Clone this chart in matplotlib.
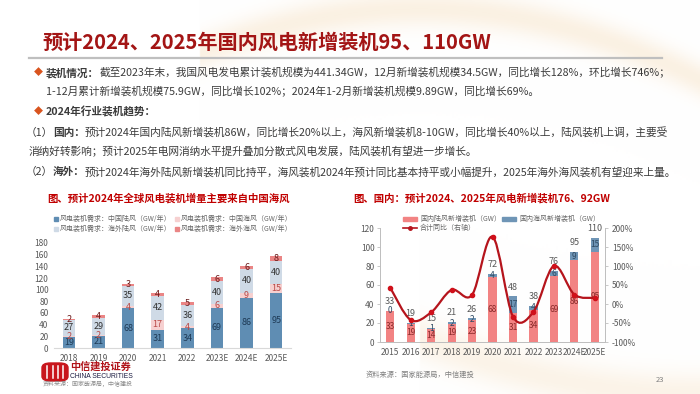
import numpy as np
import matplotlib
matplotlib.use('Agg')
import matplotlib.pyplot as plt
from matplotlib.patches import Rectangle, FancyBboxPatch
from matplotlib.path import Path
from matplotlib.patches import PathPatch
from matplotlib.lines import Line2D

plt.rcParams['font.family'] = ['Noto Sans CJK SC', 'DejaVu Sans']

# ---------------- data ----------------
years_l = ['2018', '2019', '2020', '2021', '2022', '2023E', '2024E', '2025E']
cn_onshore = [19, 21, 68, 31, 34, 69, 86, 95]
cn_offshore = [2, 2, 4, 17, 4, 6, 9, 15]
os_onshore = [27, 29, 35, 42, 36, 40, 40, 40]
os_offshore = [2, 4, 3, 4, 5, 6, 6, 8]

years_r = ['2015', '2016', '2017', '2018', '2019', '2020', '2021', '2022', '2023', '2024E', '2025E']
dom_onshore = [33, 19, 14, 19, 23, 68, 31, 34, 69, 86, 95]
dom_offshore = [0, 1, 1, 2, 2, 4, 17, 4, 6, 9, 15]
dom_total = [33, 19, 15, 21, 26, 72, 48, 38, 76, 95, 110]
total_yoy = [0.43, -0.42, -0.22, 0.37, 0.24, 1.77, -0.33, -0.21, 1.00, 0.25, 0.16]

W, H = 700, 394
fig = plt.figure(figsize=(7, 3.94), dpi=100)
fig.patch.set_facecolor('white')


def fx(x):
    return x / W


def fy(y):
    return 1 - y / H


# ---------------- background decoration ----------------
bg = fig.add_axes([0, 0, 1, 1], zorder=-10)
bg.set_axis_off()
gx, gy = np.meshgrid(np.linspace(0, W, 350), np.linspace(0, H, 197))
band1 = np.exp(-((gy - (8 + 0.0009 * (gx - 420) ** 2)) / 18) ** 2) * (gx > 200)
band2 = np.exp(-((gy - (395 - 0.0012 * (gx - 700) ** 2 * 0.6)) / 22) ** 2) * (gx > 420)
inten = np.clip(0.55 * band1 + 0.45 * band2, 0, 1)
img = np.ones((197, 350, 3))
cream = np.array([0.97, 0.90, 0.80])
img = img * (1 - inten[..., None]) + cream * inten[..., None]
bg.imshow(img, extent=[0, 1, 0, 1], aspect='auto', transform=bg.transAxes)
bg.set_xlim(0, 1)
bg.set_ylim(0, 1)

# ---------------- title ----------------
fig.text(fx(42), fy(42), '预计2024、2025年国内风电新增装机95、110GW', fontsize=14.5,
         fontweight='bold', color='#a31515', va='center', ha='left')
fig.add_artist(Line2D([fx(29), fx(662)], [fy(58), fy(58)], color='#bfbfbf', lw=1.6))

# ---------------- body text ----------------
renderer = fig.canvas.get_renderer()
body_color = '#3b3b3b'
fs_body = 7.7


def runs(x, y, parts, fs=fs_body):
    cx = x
    for txt, bold, col in parts:
        t = fig.text(fx(cx), fy(y), txt, fontsize=fs, fontweight='bold' if bold else 'normal',
                     color=col, va='center', ha='left')
        bb = t.get_window_extent(renderer=renderer)
        cx += bb.width


diamond = '#d9541e'
fig.text(fx(34), fy(73), '◆', fontsize=6.5, color=diamond, va='center', ha='left')
runs(46, 73, [('装机情况：', True, body_color),
              ('截至2023年末，我国风电发电累计装机规模为441.34GW，12月新增装机规模34.5GW，同比增长128%，环比增长746%；', False, body_color)])
runs(46, 92, [('1-12月累计新增装机规模75.9GW，同比增长102%；2024年1-2月新增装机规模9.89GW，同比增长69%。', False, body_color)])
fig.text(fx(34), fy(112), '◆', fontsize=6.5, color=diamond, va='center', ha='left')
runs(46, 112, [('2024年行业装机趋势：', True, body_color)])
runs(26, 133, [('（1）', False, body_color), ('国内：', True, body_color),
               ('预计2024年国内陆风新增装机86W，同比增长20%以上，海风新增装机8-10GW，同比增长40%以上，陆风装机上调，主要受', False, body_color)])
runs(29, 152, [('消纳好转影响；预计2025年电网消纳水平提升叠加分散式风电发展，陆风装机有望进一步增长。', False, body_color)])
runs(26, 172, [('（2）', False, body_color), ('海外：', True, body_color),
               ('预计2024年海外陆风新增装机同比持平，海风装机2024年预计同比基本持平或小幅提升，2025年海外海风装机有望迎来上量。', False, body_color)])

# ---------------- left chart ----------------
red_sub = '#c00000'
fig.text(fx(47), fy(198), '图、预计2024年全球风电装机增量主要来自中国海风', fontsize=7.5,
         fontweight='bold', color=red_sub, va='center', ha='left')

c_cn_on = '#5f8db3'
c_cn_off = '#f6d0d0'
c_os_on = '#cfdae6'
c_os_off = '#ea8585'

leg_items = [(54, 219, c_cn_on, '风电装机需求：中国陆风（GW/年）'),
             (175, 219, c_cn_off, '风电装机需求：中国海风（GW/年）'),
             (54, 229, c_os_on, '风电装机需求：海外陆风（GW/年）'),
             (175, 229, c_os_off, '风电装机需求：海外海风（GW/年）')]
for x, y, c, lab in leg_items:
    fig.add_artist(Rectangle((fx(x), fy(y + 2)), 4 / W, 4 / H, color=c, transform=fig.transFigure))
    fig.text(fx(x + 6), fy(y), lab, fontsize=5, color='#666666', va='center', ha='left')

axL = fig.add_axes([fx(54), fy(348), 237 / W, 105 / H])
xl = np.arange(len(years_l))
bw = 0.42
b1 = np.array(cn_onshore, float)
b2 = np.array(cn_offshore, float)
b3 = np.array(os_onshore, float)
b4 = np.array(os_offshore, float)
axL.bar(xl, b1, bw, color=c_cn_on)
axL.bar(xl, b2, bw, bottom=b1, color=c_cn_off)
axL.bar(xl, b3, bw, bottom=b1 + b2, color=c_os_on)
axL.bar(xl, b4, bw, bottom=b1 + b2 + b3, color=c_os_off)
for i in range(len(xl)):
    axL.text(xl[i], b1[i] / 2, f'{cn_onshore[i]}', ha='center', va='center', fontsize=6.5, color='#1f3b57')
    axL.text(xl[i], b1[i] + b2[i] / 2, f'{cn_offshore[i]}', ha='center', va='center', fontsize=6.5, color='#b94a48')
    axL.text(xl[i], b1[i] + b2[i] + b3[i] / 2, f'{os_onshore[i]}', ha='center', va='center', fontsize=6.5, color='#333333')
    axL.text(xl[i], b1[i] + b2[i] + b3[i] + b4[i] / 2, f'{os_offshore[i]}', ha='center', va='center', fontsize=6.5, color='#6b1a1a')
axL.set_xlim(-0.5, len(xl) - 0.5)
axL.set_ylim(0, 180)
axL.set_yticks(range(0, 181, 20))
axL.set_xticks(xl)
axL.set_xticklabels(years_l)
axL.tick_params(axis='both', length=0, labelsize=6, colors='#595959')
axL.tick_params(axis='y', pad=4)
axL.tick_params(axis='x', pad=4)
for s in ['top', 'right', 'left']:
    axL.spines[s].set_visible(False)
axL.spines['bottom'].set_color('#d9d9d9')
axL.patch.set_alpha(0)

# ---------------- right chart ----------------
fig.text(fx(353), fy(198), '图、国内：预计2024、2025年风电新增装机76、92GW', fontsize=7.5,
         fontweight='bold', color=red_sub, va='center', ha='left')

c_on = '#f28383'
c_off = '#6f95b6'
c_line = '#b5141c'

fig.add_artist(Rectangle((fx(403), fy(221)), 14 / W, 4 / H, color=c_on, transform=fig.transFigure))
fig.text(fx(420), fy(219), '国内陆风新增装机（GW）', fontsize=5, color='#666666', va='center', ha='left')
fig.add_artist(Rectangle((fx(502), fy(221)), 14 / W, 4 / H, color=c_off, transform=fig.transFigure))
fig.text(fx(519), fy(219), '国内海风新增装机（GW）', fontsize=5, color='#666666', va='center', ha='left')
fig.add_artist(Line2D([fx(403), fx(417)], [fy(228), fy(228)], color=c_line, lw=1.2))
fig.add_artist(Line2D([fx(410)], [fy(228)], color=c_line, marker='o', markersize=2.5))
fig.text(fx(420), fy(228), '合计同比（右轴）', fontsize=5, color='#666666', va='center', ha='left')

axR = fig.add_axes([fx(380), fy(342), 225 / W, 114 / H])
xr = np.arange(len(years_r))
bwr = 0.4
on = np.array(dom_onshore, float)
off = np.array(dom_offshore, float)
axR.bar(xr, on, bwr, color=c_on, zorder=2)
axR.bar(xr, off, bwr, bottom=on, color=c_off, zorder=2)
for i in range(len(xr)):
    axR.text(xr[i], on[i] / 2, f'{dom_onshore[i]}', ha='center', va='center', fontsize=6, color='#8a2b2b', zorder=5)
    axR.text(xr[i], on[i] + off[i] / 2, f'{dom_offshore[i]}', ha='center', va='center', fontsize=6, color='#2f4a63', zorder=5)
    axR.text(xr[i], on[i] + off[i] + 5, f'{dom_total[i]}', ha='center', va='bottom', fontsize=6.5, color='#595959', zorder=5)
axR.set_xlim(-0.5, len(xr) - 0.5)
axR.set_ylim(0, 120)
axR.set_yticks(range(0, 121, 20))
axR.set_xticks(xr)
axR.set_xticklabels(years_r)
axR.tick_params(axis='both', length=2, labelsize=6, colors='#595959', color='#bfbfbf', width=0.6)
axR.tick_params(axis='x', length=0, pad=4)
axR.tick_params(axis='y', pad=2)
axR.spines['top'].set_visible(False)
for s in ['left', 'bottom', 'right']:
    axR.spines[s].set_color('#bfbfbf')
    axR.spines[s].set_linewidth(0.7)
axR.patch.set_alpha(0)

ax2 = axR.twinx()
ax2.set_ylim(-1, 2)
ax2.set_yticks(np.arange(-1, 2.01, 0.5))
ax2.set_yticklabels([f'{int(round(v * 100))}%' for v in np.arange(-1, 2.01, 0.5)])
ax2.tick_params(axis='y', length=2, labelsize=6, colors='#595959', color='#bfbfbf', width=0.6, pad=3)
ax2.spines['top'].set_visible(False)
for s in ['left', 'bottom', 'right']:
    ax2.spines[s].set_color('#bfbfbf')
    ax2.spines[s].set_linewidth(0.7)

# smooth line (Catmull-Rom drawn as Bezier curves)
px_ = xr.astype(float)
py_ = np.array(total_yoy, float)
verts = [(px_[0], py_[0])]
codes = [Path.MOVETO]
n = len(px_)
for i in range(n - 1):
    p0 = np.array([px_[max(i - 1, 0)], py_[max(i - 1, 0)]])
    p1 = np.array([px_[i], py_[i]])
    p2 = np.array([px_[i + 1], py_[i + 1]])
    p3 = np.array([px_[min(i + 2, n - 1)], py_[min(i + 2, n - 1)]])
    c1 = p1 + (p2 - p0) / 6
    c2 = p2 - (p3 - p1) / 6
    verts += [tuple(c1), tuple(c2), tuple(p2)]
    codes += [Path.CURVE4] * 3
ax2.add_patch(PathPatch(Path(verts, codes), facecolor='none', edgecolor=c_line, lw=1.6, zorder=4))
ax2.plot(px_, py_, 'o', color='#d0101a', markersize=3, zorder=5)

# ---------------- footer ----------------
# logo icon
fig.add_artist(FancyBboxPatch((fx(42), fy(381)), 26 / W, 18 / H,
                              boxstyle='round,pad=0,rounding_size=0.012',
                              color='#c8161d', transform=fig.transFigure))
for xx in [47, 52.5, 57.5, 63]:
    fig.add_artist(Line2D([fx(xx), fx(xx)], [fy(366), fy(378)], color='white', lw=1.1))
fig.text(fx(70), fy(367), '中信建投证券', fontsize=7.3, fontweight='bold', color='#b0141a', va='center', ha='left')
fig.text(fx(70), fy(376.5), 'CHINA SECURITIES', fontsize=4.9, color='#1a1a40', va='center', ha='left',
         family=['Liberation Sans'])
fig.text(fx(43), fy(384), '资料来源：国家能源局，中信建投', fontsize=4.3, color='#8c8c8c', va='center', ha='left',
         style='italic')
fig.text(fx(366), fy(375), '资料来源：国家能源局，中信建投', fontsize=5.2, color='#7f7f7f', va='center', ha='left',
         style='italic')
fig.text(fx(656), fy(380), '23', fontsize=5.5, color='#7f7f7f', va='center', ha='left')

fig.savefig('out.png', dpi=100)
